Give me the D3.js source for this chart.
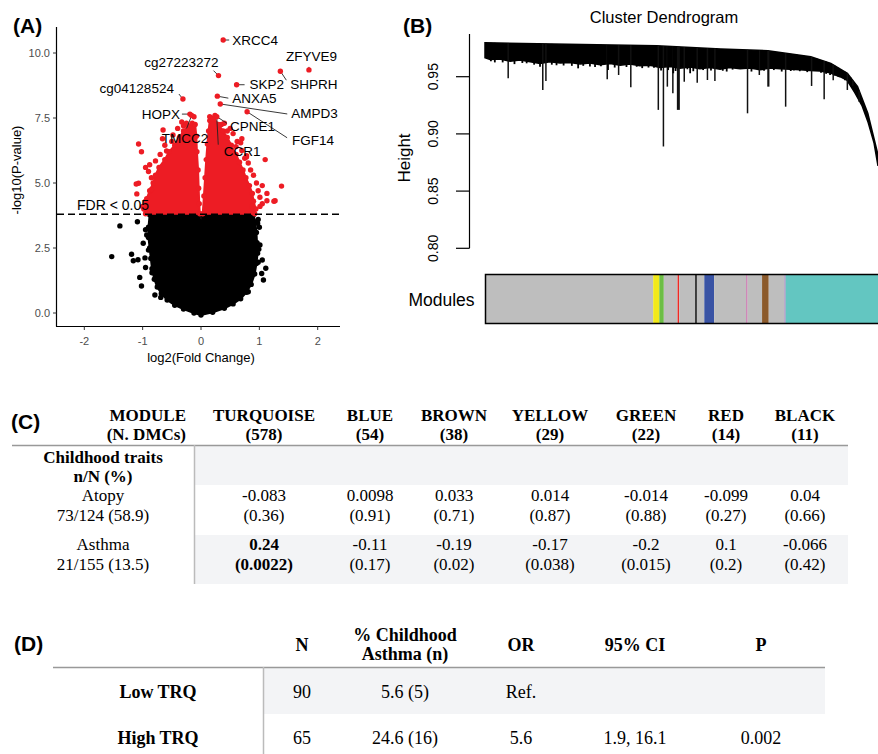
<!DOCTYPE html>
<html>
<head>
<meta charset="utf-8">
<script src="https://cdn.jsdelivr.net/npm/d3@7"></script>
<style>
  body { margin: 0; background: #fff; }
  svg { display: block; }
  .sans { font-family: "Liberation Sans", Arial, sans-serif; }
  .serif { font-family: "Liberation Serif", "Times New Roman", serif; }
</style>
</head>
<body>
<svg id="fig" width="878" height="754"></svg>
<script>
// ---------- (A) volcano plot ----------
const labeledGenes = ["XRCC4", "cg27223272", "ZFYVE9", "SHPRH", "SKP2", "ANXA5", "cg04128524",
  "AMPD3", "FGF14", "HOPX", "TMCC2", "CPNE1", "CCR1"];
const labeledLogFC = [0.38, 0.30, 1.85, 1.36, 0.61, 0.28, -0.31, 0.33, 0.79, -0.19, -0.16, 0.24, 0.27];
const labeledLogP = [10.5, 9.13, 9.35, 9.3, 8.78, 8.34, 8.23, 8.04, 7.74, 7.65, 7.6, 7.6, 7.55];

// outline of the dense cloud of significant (red) CpGs, two lobes
const redLeftLobe = [[-0.95, 3.82], [-1.0, 4.1], [-0.93, 4.4], [-0.88, 4.7], [-0.82, 5.0], [-0.78, 5.3],
  [-0.72, 5.6], [-0.62, 5.9], [-0.55, 6.2], [-0.45, 6.45], [-0.37, 6.75], [-0.3, 7.0], [-0.22, 7.2],
  [-0.15, 7.3], [-0.1, 7.25], [-0.08, 6.8], [-0.07, 6.2], [-0.05, 5.5], [-0.04, 4.8], [-0.03, 4.2], [-0.02, 3.82]];
const redRightLobe = [[0.03, 3.82], [0.05, 4.5], [0.07, 5.2], [0.09, 5.9], [0.11, 6.5], [0.13, 7.0],
  [0.15, 7.4], [0.22, 7.5], [0.3, 7.25], [0.38, 7.0], [0.45, 6.75], [0.52, 6.45], [0.6, 6.1],
  [0.66, 5.8], [0.72, 5.5], [0.77, 5.2], [0.83, 4.9], [0.88, 4.6], [0.9, 4.3], [0.94, 4.0], [0.92, 3.82]];
const redOutlierFC = [-1.07, -1.02, -0.59, -1.07, -1.1, -0.9, 1.38, 1.01, 1.13, 1.27, 1.1, 0.81, -0.65,
  -0.85, 1.13, 1.25, 1.01, 0.87, -0.5, 0.6, 0.95, 1.05, -0.95, 0.7, 0.5, -0.4, -1.11, 0.78,
  -0.78, -0.7, -0.62, -0.48, -0.3, -0.25, -0.33, -0.12, -0.85, -0.95, -0.98, -0.88,
  0.15, 0.2, 0.35, 0.45, 0.55, 0.62, 0.7, 0.75, 0.85, 0.9, 0.98, 1.05, 0.78, 0.68, -0.66, 0.4];
const redOutlierP = [6.5, 6.2, 6.23, 4.99, 4.58, 5.44, 4.88, 4.45, 4.32, 4.32, 5.9, 5.77, 7.04,
  4.75, 4.6, 4.3, 4.1, 4.1, 6.6, 6.4, 5.0, 4.9, 5.6, 6.7, 7.1, 7.1, 4.96, 6.05,
  5.85, 6.1, 6.45, 6.85, 7.2, 7.3, 7.35, 7.55, 5.2, 4.3, 4.0, 5.7,
  7.55, 7.45, 7.25, 7.0, 6.9, 6.6, 6.25, 5.95, 5.5, 5.3, 4.7, 4.2, 6.0, 6.55, 6.7, 7.3];

// outline of the non-significant (black) cloud
const blackCloud = [[0, -0.08], [-0.12, 0.0], [-0.3, 0.15], [-0.45, 0.3], [-0.58, 0.5], [-0.68, 0.75],
  [-0.75, 1.0], [-0.8, 1.3], [-0.84, 1.7], [-0.86, 2.1], [-0.88, 2.5], [-0.9, 2.9], [-0.9, 3.3],
  [-0.88, 3.78], [-0.02, 3.78], [0, 2.3], [0.02, 3.78], [0.9, 3.78], [0.93, 3.5], [0.95, 3.1],
  [0.96, 2.7], [0.97, 2.3], [0.95, 1.9], [0.92, 1.5], [0.86, 1.1], [0.78, 0.8], [0.68, 0.55],
  [0.55, 0.35], [0.4, 0.18], [0.2, 0.03]];
const blackOutlierFC = [-1.39, -1.53, -1.19, -1.16, -1.08, -0.96, -1.09, -1.05, -1.02, -0.79, -0.69,
  -0.99, -0.93, -0.9, -0.95, 0.98, 0.97, 1.01, 0.99, 1.05, 1.11, 1.04, 1.07, 0.81, 0.64, 1.0, 0.98,
  -0.84, -0.95];
const blackOutlierP = [3.35, 2.17, 2.26, 2.01, 2.05, 2.12, 3.51, 1.37, 1.04, 0.69, 0.6,
  2.68, 3.0, 2.42, 3.2, 3.6, 3.45, 2.62, 2.45, 2.04, 1.72, 1.52, 1.27, 0.82, 0.63, 3.3, 1.95,
  1.55, 1.75];

const fdrCut = 3.8;
const volcanoXTicks = [-2, -1, 0, 1, 2];
const volcanoYTicks = [0, 2.5, 5, 7.5, 10];

// ---------- (B) dendrogram ----------
// leaf position in % of ordered CpGs, merge height
const dendroTop = [[0, 0.9797], [43.7, 0.977], [60, 0.9743], [72, 0.9727], [82.9, 0.9675], [88, 0.9617],
  [92.2, 0.953], [94.8, 0.9413], [97.4, 0.918], [99.9, 0.883], [100, 0.877]];
const dendroBottom = [[0, 0.9665], [1.3, 0.965], [3.8, 0.9655], [6.4, 0.9635], [8.9, 0.9645], [11.5, 0.963],
  [14, 0.9615], [16.5, 0.963], [19.1, 0.962], [21.6, 0.9625], [24.2, 0.961], [26.7, 0.962], [29.3, 0.9605],
  [31.8, 0.9615], [34.4, 0.96], [36.9, 0.961], [39.4, 0.9595], [42, 0.96], [44.5, 0.958], [47.1, 0.959],
  [49.6, 0.9575], [52.2, 0.9585], [54.7, 0.957], [57.3, 0.958], [59.8, 0.9565], [62.3, 0.958], [64.9, 0.957],
  [67.4, 0.9575], [70, 0.956], [72.5, 0.9575], [75.1, 0.957], [77.6, 0.9565], [80.2, 0.956], [82.7, 0.9555],
  [85.2, 0.955], [87.8, 0.9535], [90.3, 0.95], [92.1, 0.947], [94.1, 0.936], [95.9, 0.925], [97.5, 0.91],
  [99, 0.892], [100, 0.872]];
const spikeLeaf = [5.9, 14.7, 15.5, 31.1, 34.0, 37.1, 44.1, 45.4, 46.4, 47.8, 49.2, 50.7, 54.0, 56.6, 58.5,
  66.8, 69.8, 72.1, 76.5, 83.1, 86.3, 88.6, 92.2, 93.6, 95.2];
const spikeHeight = [0.9486, 0.9384, 0.9462, 0.9477, 0.9515, 0.9407, 0.921, 0.889, 0.9413, 0.9355, 0.921,
  0.9456, 0.9448, 0.9471, 0.9462, 0.918, 0.9515, 0.9413, 0.9238, 0.9419, 0.9303, 0.947, 0.9384, 0.942, 0.928];
const fringeLeaf = [10.6, 14, 18.2, 22.1, 23.7, 26.7, 31.3, 38.6, 41.6, 46.6, 47.9, 52.2, 55.5, 59, 63.6,
  65.3, 69.5, 74.2, 79.3, 81, 84.4, 87.8, 89.9, 91.6, 2.5, 7.5, 28, 44.8, 61.5, 77.8,
  1.5, 4.5, 9.5, 12.5, 17, 20, 25, 29.5, 33, 36, 40, 43, 48.5, 51.5, 53, 57.5, 60.5, 63, 67.8,
  71, 73.5, 75.5, 78.6, 80.1, 82, 85.5, 86.8, 89, 90.8, 93];
const fringeHeight = [0.9617, 0.9587, 0.96, 0.9595, 0.9573, 0.959, 0.9558, 0.9587, 0.958, 0.9558, 0.953,
  0.953, 0.9558, 0.957, 0.9587, 0.9575, 0.9558, 0.9587, 0.9575, 0.957, 0.9555, 0.9515, 0.95, 0.947,
  0.9625, 0.961, 0.9585, 0.9555, 0.9545, 0.955,
  0.9635, 0.9625, 0.962, 0.9605, 0.9605, 0.9598, 0.9595, 0.9592, 0.958, 0.9585, 0.9575, 0.9578, 0.955,
  0.9565, 0.9548, 0.9555, 0.9552, 0.9562, 0.9545, 0.9552, 0.9558, 0.9545, 0.9555, 0.9548, 0.954,
  0.9535, 0.9525, 0.951, 0.949, 0.9445];
const heightTicks = [0.80, 0.85, 0.90, 0.95];

const moduleNames = ["grey", "yellow", "green", "grey", "red", "grey", "black", "grey", "blue", "grey",
  "magenta", "grey", "brown", "grey", "purple", "turquoise"];
const moduleStart = [0, 42.8, 44.35, 45.5, 49.0, 49.4, 53.5, 53.9, 55.8, 58.3, 66.5, 66.8, 70.5, 72.2, 76.2, 76.5];
const moduleEnd = [42.8, 44.35, 45.5, 49.0, 49.4, 53.5, 53.9, 55.8, 58.3, 66.5, 66.8, 70.5, 72.2, 76.2, 76.5, 100];

// ---------- (C) module-trait table ----------
const tcModules = ["TURQUOISE", "BLUE", "BROWN", "YELLOW", "GREEN", "RED", "BLACK"];
const tcDMCs = [578, 54, 38, 29, 22, 14, 11];
const tcTraits = ["Atopy", "Asthma"];
const tcTraitN = ["73/124 (58.9)", "21/155 (13.5)"];
const atopyR = ["-0.083", "0.0098", "0.033", "0.014", "-0.014", "-0.099", "0.04"];
const atopyP = ["0.36", "0.91", "0.71", "0.87", "0.88", "0.27", "0.66"];
const asthmaR = ["0.24", "-0.11", "-0.19", "-0.17", "-0.2", "0.1", "-0.066"];
const asthmaP = ["0.0022", "0.17", "0.02", "0.038", "0.015", "0.2", "0.42"];

// ---------- (D) TRQ table ----------
const tdGroups = ["Low TRQ", "High TRQ"];
const tdN = ["90", "65"];
const tdPct = ["5.6 (5)", "24.6 (16)"];
const tdOR = ["Ref.", "5.6"];
const tdCI = ["", "1.9, 16.1"];
const tdP = ["", "0.002"];

const svg = d3.select("#fig");

// panel letters
const letters = [["(A)", 13, 33], ["(B)", 403, 33], ["(C)", 11, 429], ["(D)", 14, 651]];
svg.selectAll("text.letter").data(letters).join("text")
  .attr("class", "letter sans")
  .attr("x", d => d[1]).attr("y", d => d[2])
  .attr("font-size", 21).attr("font-weight", "bold")
  .text(d => d[0]);

// ===== (A) =====
const vx = d3.scaleLinear().domain([-2, 2]).range([84.3, 317.7]);
const vy = d3.scaleLinear().domain([0, 10]).range([313, 53]);
const gA = svg.append("g").attr("class", "sans");
const RED = "#ED1C24";
const dotR = 2.7;

const lineXY = d3.line().x(d => vx(d[0])).y(d => vy(d[1])).curve(d3.curveLinearClosed);

// black cloud
gA.append("path").attr("d", lineXY(blackCloud)).attr("fill", "#000")
  .attr("stroke", "#000").attr("stroke-width", 2);
gA.selectAll("circle.bc").data(blackCloud).join("circle")
  .attr("cx", d => vx(d[0])).attr("cy", d => vy(d[1])).attr("r", dotR).attr("fill", "#000");
gA.selectAll("circle.bo").data(d3.zip(blackOutlierFC, blackOutlierP)).join("circle")
  .attr("cx", d => vx(d[0])).attr("cy", d => vy(d[1])).attr("r", dotR).attr("fill", "#000");

// red cloud
[redLeftLobe, redRightLobe].forEach(lobe => {
  gA.append("path").attr("d", lineXY(lobe)).attr("fill", RED)
    .attr("stroke", RED).attr("stroke-width", 2);
  gA.append("g").selectAll("circle").data(lobe).join("circle")
    .attr("cx", d => vx(d[0])).attr("cy", d => vy(d[1])).attr("r", dotR).attr("fill", RED);
});
gA.append("g").selectAll("circle").data(d3.zip(redOutlierFC, redOutlierP)).join("circle")
  .attr("cx", d => vx(d[0])).attr("cy", d => vy(d[1])).attr("r", dotR).attr("fill", RED);

// labelled genes: text offset (dx, dy), anchor, connector end (lx, ly), px from point
const labelLayout = {
  "XRCC4": [9, 5, "start", 6, 0],
  "cg27223272": [0, -9, "end", -5, -5],
  "ZFYVE9": [-23, -9, "start", 0, -3],
  "SHPRH": [10, 18, "start", 6, 9],
  "SKP2": [13, 4, "start", 8, 0],
  "ANXA5": [15, 6.5, "start", 11, 2],
  "cg04128524": [-9, -6, "end", -4, -5],
  "AMPD3": [71, 14, "start", 67, 10],
  "FGF14": [45, 33, "start", 40, 26],
  "HOPX": [-10, 5, "end", -8, 0],
  "TMCC2": [-30, 28, "start", -5, 13],
  "CPNE1": [15, 16, "start", 12, 8],
  "CCR1": [7, 39, "start", 1.5, 28]
};
const genes = labeledGenes.map((g, i) => ({ g, x: labeledLogFC[i], y: labeledLogP[i] }));
gA.selectAll("line.conn").data(genes).join("line")
  .attr("x1", d => vx(d.x)).attr("y1", d => vy(d.y))
  .attr("x2", d => vx(d.x) + labelLayout[d.g][3]).attr("y2", d => vy(d.y) + labelLayout[d.g][4])
  .attr("stroke", "#222").attr("stroke-width", 0.9);
gA.selectAll("circle.gene").data(genes).join("circle")
  .attr("cx", d => vx(d.x)).attr("cy", d => vy(d.y)).attr("r", dotR).attr("fill", RED);
gA.selectAll("text.gene").data(genes).join("text")
  .attr("x", d => vx(d.x) + labelLayout[d.g][0]).attr("y", d => vy(d.y) + labelLayout[d.g][1])
  .attr("text-anchor", d => labelLayout[d.g][2])
  .attr("font-size", 13.5).attr("fill", "#000")
  .text(d => d.g);

// FDR line
gA.append("line").attr("x1", 57).attr("x2", 340).attr("y1", vy(fdrCut)).attr("y2", vy(fdrCut))
  .attr("stroke", "#000").attr("stroke-width", 1.6).attr("stroke-dasharray", "7,4");
gA.append("text").attr("x", 77).attr("y", vy(fdrCut) - 4).attr("font-size", 14).text("FDR < 0.05");

// axes
gA.append("line").attr("x1", 56.5).attr("x2", 56.5).attr("y1", 27).attr("y2", 326.5)
  .attr("stroke", "#000").attr("stroke-width", 1.2);
gA.append("line").attr("x1", 56).attr("x2", 340).attr("y1", 326.5).attr("y2", 326.5)
  .attr("stroke", "#000").attr("stroke-width", 1.2);
gA.selectAll("line.yt").data(volcanoYTicks).join("line")
  .attr("x1", 53).attr("x2", 56.5).attr("y1", d => vy(d)).attr("y2", d => vy(d))
  .attr("stroke", "#333");
gA.selectAll("text.yt").data(volcanoYTicks).join("text")
  .attr("x", 50).attr("y", d => vy(d) + 4).attr("text-anchor", "end")
  .attr("font-size", 11).attr("fill", "#4D4D4D").text(d => d3.format(".1f")(d));
gA.selectAll("line.xt").data(volcanoXTicks).join("line")
  .attr("x1", d => vx(d)).attr("x2", d => vx(d)).attr("y1", 326.5).attr("y2", 330)
  .attr("stroke", "#333");
gA.selectAll("text.xt").data(volcanoXTicks).join("text")
  .attr("x", d => vx(d)).attr("y", 345).attr("text-anchor", "middle")
  .attr("font-size", 11).attr("fill", "#4D4D4D").text(d => d);
gA.append("text").attr("x", 201).attr("y", 362).attr("text-anchor", "middle")
  .attr("font-size", 13).text("log2(Fold Change)");
gA.append("text").attr("transform", "translate(21,170) rotate(-90)").attr("text-anchor", "middle")
  .attr("font-size", 13).text("-log10(P-value)");

// ===== (B) =====
const lx = d3.scaleLinear().domain([0, 100]).range([485, 878]);
const hy = d3.scaleLinear().domain([0.8, 0.95]).range([248.3, 76.7]);
const gB = svg.append("g").attr("class", "sans");

const band = dendroTop.concat(dendroBottom.slice().reverse());
gB.append("path")
  .attr("d", d3.line().x(d => lx(d[0])).y(d => hy(d[1])).curve(d3.curveLinearClosed)(band))
  .attr("fill", "#000").attr("stroke", "#000").attr("stroke-width", 1.5);

const topAt = d3.scaleLinear().domain(dendroTop.map(d => d[0])).range(dendroTop.map(d => d[1]));
gB.selectAll("line.spike").data(d3.zip(spikeLeaf, spikeHeight)).join("line")
  .attr("x1", d => lx(d[0])).attr("x2", d => lx(d[0]))
  .attr("y1", d => hy(topAt(d[0]))).attr("y2", d => hy(d[1]))
  .attr("stroke", "#111").attr("stroke-width", (d, i) => (i === 10 ? 3 : i === 17 ? 2.2 : 1.5));
gB.selectAll("line.fringe").data(d3.zip(fringeLeaf, fringeHeight)).join("line")
  .attr("x1", d => lx(d[0])).attr("x2", d => lx(d[0]))
  .attr("y1", d => hy(topAt(d[0]))).attr("y2", d => hy(d[1]))
  .attr("stroke", "#000").attr("stroke-width", 1.8);

// y axis
gB.append("line").attr("x1", 469.5).attr("x2", 469.5).attr("y1", 34).attr("y2", hy(0.8))
  .attr("stroke", "#000").attr("stroke-width", 1.2);
gB.selectAll("line.ht").data(heightTicks).join("line")
  .attr("x1", 456).attr("x2", 469.5).attr("y1", d => hy(d)).attr("y2", d => hy(d))
  .attr("stroke", "#000").attr("stroke-width", 1.2);
gB.selectAll("text.ht").data(heightTicks).join("text")
  .attr("transform", d => `translate(438,${hy(d)}) rotate(-90)`)
  .attr("text-anchor", "middle").attr("font-size", 14).text(d => d3.format(".2f")(d));
gB.append("text").attr("transform", "translate(410,158) rotate(-90)").attr("text-anchor", "middle")
  .attr("font-size", 17).text("Height");
gB.append("text").attr("x", 664).attr("y", 23).attr("text-anchor", "middle")
  .attr("font-size", 16.5).text("Cluster Dendrogram");

// module colour bar
const moduleColor = {
  grey: "#BEBEBE", yellow: "#F2E91A", green: "#6CBE45", red: "#EE2A24", black: "#000000",
  blue: "#3953A4", magenta: "#C0569E", brown: "#8B5A2B", purple: "#9C7BB8", turquoise: "#63C6C1"
};
const mods = moduleNames.map((m, i) => ({ m, s: moduleStart[i], e: moduleEnd[i] }));
gB.selectAll("rect.mod").data(mods).join("rect")
  .attr("x", d => lx(d.s)).attr("width", d => lx(d.e) - lx(d.s))
  .attr("y", 274.5).attr("height", 49).attr("fill", d => moduleColor[d.m]);
gB.append("path").attr("d", "M880,274.5 H485.5 V323.5 H880")
  .attr("fill", "none").attr("stroke", "#000").attr("stroke-width", 1.5);
gB.append("text").attr("x", 441.5).attr("y", 306).attr("text-anchor", "middle")
  .attr("font-size", 17.5).text("Modules");

// ===== (C) =====
const gC = svg.append("g").attr("class", "serif");
const cCol = [264, 370, 454, 550, 646, 726, 805];
const shade = "#F3F4F6";
gC.append("rect").attr("x", 195).attr("y", 445).attr("width", 653).attr("height", 40).attr("fill", shade);
gC.append("rect").attr("x", 195).attr("y", 535).attr("width", 653).attr("height", 49).attr("fill", shade);
gC.append("line").attr("x1", 12).attr("x2", 848).attr("y1", 445.5).attr("y2", 445.5)
  .attr("stroke", "#999").attr("stroke-width", 1.5);
gC.append("line").attr("x1", 194.5).attr("x2", 194.5).attr("y1", 445).attr("y2", 584)
  .attr("stroke", "#BBB").attr("stroke-width", 1.5);

gC.append("text").attr("x", 186).attr("y", 421).attr("text-anchor", "end")
  .attr("font-size", 17).attr("font-weight", "bold").text("MODULE");
gC.append("text").attr("x", 186).attr("y", 440).attr("text-anchor", "end")
  .attr("font-size", 17).attr("font-weight", "bold").text("(N. DMCs)");
gC.selectAll("text.mh").data(tcModules).join("text")
  .attr("x", (d, i) => cCol[i]).attr("y", 421).attr("text-anchor", "middle")
  .attr("font-size", 17).attr("font-weight", "bold").text(d => d);
gC.selectAll("text.mn").data(tcDMCs).join("text")
  .attr("x", (d, i) => cCol[i]).attr("y", 440).attr("text-anchor", "middle")
  .attr("font-size", 17).attr("font-weight", "bold").text(d => `(${d})`);

gC.append("text").attr("x", 103).attr("y", 463).attr("text-anchor", "middle")
  .attr("font-size", 17).attr("font-weight", "bold").text("Childhood traits");
gC.append("text").attr("x", 103).attr("y", 482).attr("text-anchor", "middle")
  .attr("font-size", 17).attr("font-weight", "bold").text("n/N (%)");

const rowBase = [501, 550];
const rVals = [atopyR, asthmaR];
const pVals = [atopyP, asthmaP];
tcTraits.forEach((t, r) => {
  gC.append("text").attr("x", 103).attr("y", rowBase[r]).attr("text-anchor", "middle")
    .attr("font-size", 17).text(t);
  gC.append("text").attr("x", 103).attr("y", rowBase[r] + 20).attr("text-anchor", "middle")
    .attr("font-size", 17).text(tcTraitN[r]);
  const cells = tcModules.map((m, i) => ({ r: rVals[r][i], p: pVals[r][i], i }));
  const g = gC.append("g");
  g.selectAll("text.r").data(cells).join("text")
    .attr("x", d => cCol[d.i]).attr("y", rowBase[r]).attr("text-anchor", "middle")
    .attr("font-size", 17).attr("font-weight", d => (+d.p < 0.01 ? "bold" : "normal"))
    .text(d => d.r);
  g.selectAll("text.p").data(cells).join("text")
    .attr("x", d => cCol[d.i]).attr("y", rowBase[r] + 20).attr("text-anchor", "middle")
    .attr("font-size", 17).attr("font-weight", d => (+d.p < 0.01 ? "bold" : "normal"))
    .text(d => `(${d.p})`);
});

// ===== (D) =====
const gD = svg.append("g").attr("class", "serif");
const dCol = [302, 405, 521, 635, 761];
const dFont = 18;
gD.append("rect").attr("x", 264).attr("y", 667).attr("width", 561).attr("height", 47).attr("fill", shade);
gD.append("line").attr("x1", 53).attr("x2", 825).attr("y1", 667.5).attr("y2", 667.5)
  .attr("stroke", "#999").attr("stroke-width", 1.5);
gD.append("line").attr("x1", 263.5).attr("x2", 263.5).attr("y1", 667).attr("y2", 754)
  .attr("stroke", "#BBB").attr("stroke-width", 1.5);

const dHead = [["N"], ["% Childhood", "Asthma (n)"], ["OR"], ["95% CI"], ["P"]];
dHead.forEach((lines, c) => {
  lines.forEach((s, k) => {
    gD.append("text").attr("x", dCol[c]).attr("y", lines.length === 1 ? 651 : 641 + k * 19)
      .attr("text-anchor", "middle").attr("font-size", dFont).attr("font-weight", "bold").text(s);
  });
});
const dRowBase = [698, 744];
tdGroups.forEach((g, r) => {
  gD.append("text").attr("x", 158).attr("y", dRowBase[r]).attr("text-anchor", "middle")
    .attr("font-size", dFont).attr("font-weight", "bold").text(g);
  const vals = [tdN[r], tdPct[r], tdOR[r], tdCI[r], tdP[r]];
  gD.append("g").selectAll("text").data(vals).join("text")
    .attr("x", (d, i) => dCol[i]).attr("y", dRowBase[r]).attr("text-anchor", "middle")
    .attr("font-size", dFont).text(d => d);
});
</script>
</body>
</html>
